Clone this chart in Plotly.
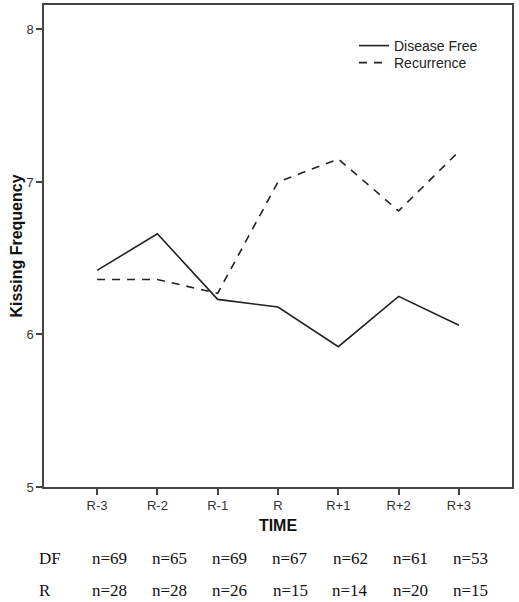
import plotly.graph_objects as go

categories = ["R-3", "R-2", "R-1", "R", "R+1", "R+2", "R+3"]
disease_free = [6.42, 6.66, 6.23, 6.18, 5.92, 6.25, 6.06]
recurrence = [6.36, 6.36, 6.27, 7.00, 7.15, 6.81, 7.20]
n_df = ["n=69", "n=65", "n=69", "n=67", "n=62", "n=61", "n=53"]
n_r = ["n=28", "n=28", "n=26", "n=15", "n=14", "n=20", "n=15"]
y_ticks = [5, 6, 7, 8]

xs = list(range(len(categories)))

fig = go.Figure()
fig.add_trace(go.Scatter(x=xs, y=disease_free, mode="lines", name="Disease Free",
                         line=dict(color="#222222", width=1.6), legend="legend"))
fig.add_trace(go.Scatter(x=xs, y=recurrence, mode="lines", name="Recurrence",
                         line=dict(color="#222222", width=1.6, dash="8px,7px"), legend="legend2"))

L, R, T, B = 44, 7, 5, 115
W, H = 519, 602
PW, PH = W - L - R, H - T - B


def py(ypix):
    return (H - B - ypix) / PH


leg_common = dict(x=(354 - L) / PW, xanchor="left", yanchor="middle",
                  bgcolor="rgba(0,0,0,0)", font=dict(size=14, color="#222222"),
                  itemwidth=30, borderwidth=0)

fig.update_layout(
    template="none",
    width=W, height=H,
    margin=dict(l=L, r=R, t=T, b=B, pad=0),
    paper_bgcolor="white", plot_bgcolor="white",
    font=dict(family="Liberation Sans, Arial", size=13, color="#222222"),
    showlegend=True,
    legend=dict(y=py(46), **leg_common),
    legend2=dict(y=py(63), **leg_common),
    xaxis=dict(range=[-0.88, 6.88], tickmode="array", tickvals=xs, ticktext=categories,
               automargin=False,
               showgrid=False, zeroline=False, showline=True, linecolor="#444444", linewidth=1.5,
               mirror=True, ticks="outside", ticklen=6, tickwidth=1.5, tickcolor="#444444",
               tickfont=dict(size=13, color="#333333"),
               title=dict(text="<b>TIME</b>", font=dict(size=16, color="#111111"), standoff=7)),
    yaxis=dict(range=[5, 8.16], tickmode="array", tickvals=y_ticks,
               ticktext=[str(t) for t in y_ticks], automargin=False,
               showgrid=False, zeroline=False, showline=True, linecolor="#444444", linewidth=1.5,
               mirror=True, ticks="outside", ticklen=6, tickwidth=1.5, tickcolor="#444444",
               tickfont=dict(size=13, color="#333333"),
               title=dict(text="<b>Kissing Frequency</b>", font=dict(size=16, color="#111111"), standoff=0)),
)

serif = dict(family="Liberation Serif, Times New Roman", size=17, color="#111111")
ann = []
y_df = py(558)
y_r = py(590)
ann.append(dict(xref="paper", yref="paper", x=-7 / PW, y=y_df, text="DF",
                showarrow=False, xanchor="left", yanchor="middle", font=serif))
ann.append(dict(xref="paper", yref="paper", x=-7 / PW, y=y_r, text="R",
                showarrow=False, xanchor="left", yanchor="middle", font=serif))
for i, (a, b) in enumerate(zip(n_df, n_r)):
    ann.append(dict(xref="x", yref="paper", x=i, y=y_df, text=a, showarrow=False,
                    xanchor="center", yanchor="middle", xshift=12, font=serif))
    ann.append(dict(xref="x", yref="paper", x=i, y=y_r, text=b, showarrow=False,
                    xanchor="center", yanchor="middle", xshift=12, font=serif))
fig.update_layout(annotations=ann)

fig.write_html("out.html", config={"displayModeBar": False},
               post_script="document.body.style.margin='0';document.body.style.overflow='hidden';")
